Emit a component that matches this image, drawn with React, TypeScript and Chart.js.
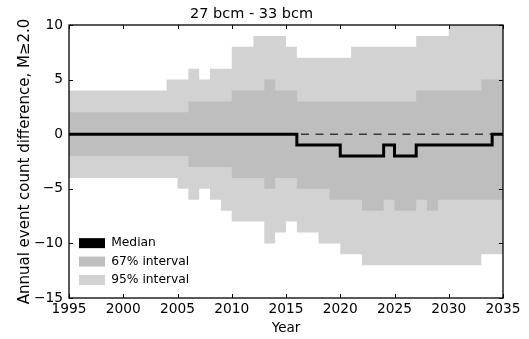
import React, { useEffect, useRef } from 'react';
import { Chart, registerables } from 'chart.js';

Chart.register(...registerables);

const TITLE = '27 bcm - 33 bcm';
const X_TITLE = 'Year';
const Y_TITLE = 'Annual event count difference, M≥2.0';
const X_TICKS = [1995, 2000, 2005, 2010, 2015, 2020, 2025, 2030, 2035];
const Y_TICKS = [-15, -10, -5, 0, 5, 10];

// start year of each one-year step
const YEARS = [
  1995, 1996, 1997, 1998, 1999, 2000, 2001, 2002, 2003, 2004,
  2005, 2006, 2007, 2008, 2009, 2010, 2011, 2012, 2013, 2014,
  2015, 2016, 2017, 2018, 2019, 2020, 2021, 2022, 2023, 2024,
  2025, 2026, 2027, 2028, 2029, 2030, 2031, 2032, 2033, 2034,
];
const END_YEAR = 2035;

const MEDIAN = [
  0, 0, 0, 0, 0, 0, 0, 0, 0, 0,
  0, 0, 0, 0, 0, 0, 0, 0, 0, 0,
  0, -1, -1, -1, -1, -2, -2, -2, -2, -1,
  -2, -2, -1, -1, -1, -1, -1, -1, -1, 0,
];
const UPPER_67 = [
  2, 2, 2, 2, 2, 2, 2, 2, 2, 2,
  2, 3, 3, 3, 3, 4, 4, 4, 5, 4,
  4, 3, 3, 3, 3, 3, 3, 3, 3, 3,
  3, 3, 4, 4, 4, 4, 4, 4, 5, 5,
];
const LOWER_67 = [
  -2, -2, -2, -2, -2, -2, -2, -2, -2, -2,
  -2, -3, -3, -3, -3, -4, -4, -4, -5, -4,
  -4, -5, -5, -5, -6, -6, -6, -7, -7, -6,
  -7, -7, -6, -7, -6, -6, -6, -6, -6, -6,
];
const UPPER_95 = [
  4, 4, 4, 4, 4, 4, 4, 4, 4, 5,
  5, 6, 5, 6, 6, 8, 8, 9, 9, 9,
  8, 7, 7, 7, 7, 7, 8, 8, 8, 8,
  8, 8, 9, 9, 9, 10, 10, 10, 10, 10,
];
const LOWER_95 = [
  -4, -4, -4, -4, -4, -4, -4, -4, -4, -4,
  -5, -6, -5, -6, -7, -8, -8, -8, -10, -9,
  -8, -9, -9, -10, -10, -11, -11, -12, -12, -12,
  -12, -12, -12, -12, -12, -12, -12, -12, -11, -11,
];
const REFERENCE_LEVEL = 0;

const LABEL_MEDIAN = 'Median';
const LABEL_67 = '67% interval';
const LABEL_95 = '95% interval';

const LIGHT = '#d2d2d2';
const DARK = '#bebebe';
const FONT = "'DejaVu Sans', sans-serif";

const steps = (vals: number[]) => [
  ...YEARS.map((x, i) => ({ x, y: vals[i] })),
  { x: END_YEAR, y: vals[vals.length - 1] },
];

const frameTicks = {
  id: 'frameTicks',
  afterDatasetsDraw(chart: any) {
    const { ctx, chartArea, scales } = chart;
    const { left, right, top, bottom } = chartArea;
    ctx.save();
    ctx.strokeStyle = '#000';
    ctx.lineWidth = 1;
    const L = 4;
    X_TICKS.forEach((v) => {
      const px = Math.round(scales.x.getPixelForValue(v)) + 0.5;
      ctx.beginPath();
      ctx.moveTo(px, bottom);
      ctx.lineTo(px, bottom - L);
      ctx.moveTo(px, top);
      ctx.lineTo(px, top + L);
      ctx.stroke();
    });
    Y_TICKS.forEach((v) => {
      const py = Math.round(scales.y.getPixelForValue(v)) + 0.5;
      ctx.beginPath();
      ctx.moveTo(left, py);
      ctx.lineTo(left + L, py);
      ctx.moveTo(right, py);
      ctx.lineTo(right - L, py);
      ctx.stroke();
    });
    ctx.lineWidth = 1.3;
    ctx.strokeRect(left, top, right - left, bottom - top);
    ctx.restore();
  },
};

const legendPlacer = {
  id: 'legendPlacer',
  afterLayout(chart: any) {
    const lg = chart.legend;
    if (!lg) return;
    const ca = chart.chartArea;
    const pad = lg.options.labels.padding;
    lg.left = ca.left + 10 - pad;
    lg.right = ca.right;
    lg.top = ca.bottom - 61 - pad;
    lg.bottom = ca.bottom;
    lg.width = lg.right - lg.left;
    lg.height = lg.bottom - lg.top;
  },
};

export default function App() {
  const ref = useRef<HTMLCanvasElement | null>(null);

  useEffect(() => {
    if (!ref.current) return;
    Chart.defaults.font.family = FONT;
    Chart.defaults.color = '#000';

    const chart = new Chart(ref.current, {
      type: 'line',
      data: {
        datasets: [
          {
            label: LABEL_MEDIAN,
            data: steps(MEDIAN),
            stepped: 'before',
            borderColor: '#000',
            backgroundColor: '#000',
            borderWidth: 3,
            pointRadius: 0,
            fill: false,
            order: 0,
          },
          {
            label: LABEL_67,
            data: steps(UPPER_67),
            stepped: 'before',
            borderColor: 'rgba(0,0,0,0)',
            backgroundColor: DARK,
            borderWidth: 0,
            pointRadius: 0,
            fill: 2,
            order: 2,
          },
          {
            label: '',
            data: steps(LOWER_67),
            stepped: 'before',
            borderColor: 'rgba(0,0,0,0)',
            backgroundColor: DARK,
            borderWidth: 0,
            pointRadius: 0,
            fill: false,
            order: 2,
          },
          {
            label: LABEL_95,
            data: steps(UPPER_95),
            stepped: 'before',
            borderColor: 'rgba(0,0,0,0)',
            backgroundColor: LIGHT,
            borderWidth: 0,
            pointRadius: 0,
            fill: 4,
            order: 3,
          },
          {
            label: '',
            data: steps(LOWER_95),
            stepped: 'before',
            borderColor: 'rgba(0,0,0,0)',
            backgroundColor: LIGHT,
            borderWidth: 0,
            pointRadius: 0,
            fill: false,
            order: 3,
          },
          {
            label: '',
            data: [
              { x: YEARS[0], y: REFERENCE_LEVEL },
              { x: END_YEAR, y: REFERENCE_LEVEL },
            ],
            borderColor: '#3a3a3a',
            borderWidth: 1.6,
            borderDash: [8, 6.5],
            pointRadius: 0,
            fill: false,
            order: 1,
          },
        ],
      },
      options: {
        animation: false,
        responsive: true,
        maintainAspectRatio: false,
        layout: { padding: { left: 0, right: 26, top: 0, bottom: 0 } },
        plugins: {
          tooltip: { enabled: false },
          title: {
            display: true,
            text: TITLE,
            color: '#000',
            font: { size: 14.5, weight: 'normal', family: FONT },
            padding: { top: 5.2, bottom: 2.4 },
          },
          legend: {
            display: true,
            position: 'chartArea',
            align: 'start',
            labels: {
              boxWidth: 26,
              boxHeight: 10,
              padding: 6.1,
              color: '#000',
              font: { size: 12.3, family: FONT },
              generateLabels: (c: any) =>
                (Chart.defaults.plugins.legend.labels as any)
                  .generateLabels(c)
                  .filter((l: any) => !!c.data.datasets[l.datasetIndex].label)
                  .map((l: any) => ({ ...l, lineWidth: 0, strokeStyle: 'rgba(0,0,0,0)' })),
            },
          },
        },
        scales: {
          x: {
            type: 'linear',
            min: X_TICKS[0],
            max: X_TICKS[X_TICKS.length - 1],
            grid: { display: false, drawTicks: false },
            border: { display: false },
            afterBuildTicks: (s: any) => {
              s.ticks = X_TICKS.map((value) => ({ value }));
            },
            afterFit: (s: any) => {
              s.height = 41;
            },
            ticks: {
              padding: 3,
              color: '#000',
              maxRotation: 0,
              autoSkip: false,
              font: { size: 13.75, family: FONT },
              callback: (v: any) => String(v),
            },
            title: {
              display: true,
              text: X_TITLE,
              color: '#000',
              font: { size: 13.5, family: FONT },
              padding: { top: 0, bottom: 2.5 },
            },
          },
          y: {
            type: 'linear',
            min: Y_TICKS[0],
            max: Y_TICKS[Y_TICKS.length - 1],
            grid: { display: false, drawTicks: false },
            border: { display: false },
            afterBuildTicks: (s: any) => {
              s.ticks = Y_TICKS.map((value) => ({ value }));
            },
            afterFit: (s: any) => {
              s.width = 69;
            },
            ticks: {
              padding: 6,
              color: '#000',
              autoSkip: false,
              font: { size: 13.75, family: FONT },
              callback: (v: any) => String(v).replace('-', '\u2212'),
            },
            title: {
              display: true,
              text: Y_TITLE,
              color: '#000',
              font: { size: 15, family: FONT },
              padding: { top: 16, bottom: 0 },
            },
          },
        },
      },
      plugins: [frameTicks, legendPlacer],
    } as any);

    return () => chart.destroy();
  }, []);

  return (
    <div style={{ position: 'fixed', left: 0, top: 0, width: 529, height: 339 }}>
      <canvas ref={ref} />
    </div>
  );
}
